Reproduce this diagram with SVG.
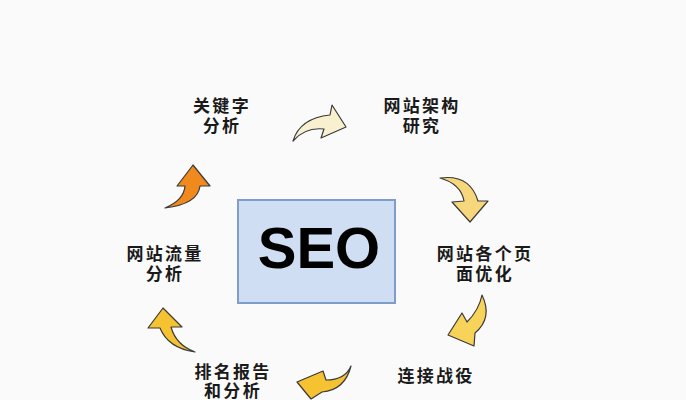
<svg xmlns="http://www.w3.org/2000/svg" width="686" height="400" viewBox="0 0 686 400">
<style>
.lbl{font-family:"Noto Sans CJK SC","Noto Sans",sans-serif;font-size:17px;font-weight:700;letter-spacing:2.3px;fill:#1a1a1a;text-anchor:middle}
.arr{stroke:#3a3a3a;stroke-width:1.2;stroke-linejoin:round}
</style>
<rect x="0" y="0" width="686" height="400" fill="#fafafa"/>
<g id="connectors">
<path class="arr" fill="#f8f0cf" d="M293,141 Q300,118 330,115 L332,105 L346,127 L321,138 L324,129 Q305,127 293,141 Z"/>
<path class="arr" fill="#f6d77c" d="M440,178 Q470,174 478,201 L488,201 L470,222 L452,202 L464,201 Q461,184 440,178 Z"/>
<path class="arr" fill="#f7d35a" d="M482,295 Q493,318 475,333 L474,346 L448,335 L462,313 L467,322 Q479,310 482,295 Z"/>
<path class="arr" fill="#f5c232" d="M351,366 Q345,380 326,380 L323,371 L297,382 L311,399 L322,392 Q345,390 351,366 Z"/>
<path class="arr" fill="#f5c232" d="M195,352 Q168,348 160,328 L148,328 L163,308 L182,327 L171,327 Q176,345 195,352 Z"/>
<path class="arr" fill="#f08a1e" d="M165,208 Q184,200 185,186 L177,186 L193,165 L210,186 L200,186 Q198,204 165,208 Z"/>
</g>
<g id="seo">
<rect x="238" y="200" width="157" height="103" fill="#cfdef2" stroke="#7f9dc8" stroke-width="2"/>
<text x="319" y="268" font-family="Liberation Sans,Arial,sans-serif" font-size="58" font-weight="700" fill="#000" text-anchor="middle">SEO</text>
</g>
<g id="n1"><text class="lbl" x="222" y="112">关键字</text><text class="lbl" x="222" y="132">分析</text></g>
<g id="n2"><text class="lbl" x="422" y="112">网站架构</text><text class="lbl" x="422" y="132">研究</text></g>
<g id="n3"><text class="lbl" x="485" y="260">网站各个页</text><text class="lbl" x="485" y="280">面优化</text></g>
<g id="n4"><text class="lbl" x="436" y="382">连接战役</text></g>
<g id="n5"><text class="lbl" x="233" y="378">排名报告</text><text class="lbl" x="233" y="397">和分析</text></g>
<g id="n6"><text class="lbl" x="165" y="260">网站流量</text><text class="lbl" x="165" y="280">分析</text></g>
</svg>
